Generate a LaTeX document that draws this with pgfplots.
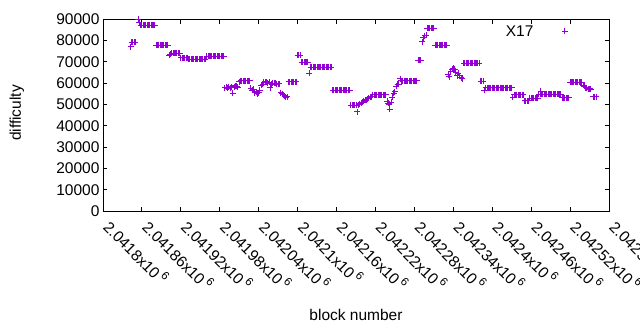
\documentclass[border=0pt]{standalone}
\usepackage{fontspec}
\setmainfont{Liberation Sans}
\usepackage{pgfplots}
\usepackage{pgfplotstable}
\pgfplotsset{compat=1.18}
\definecolor{dv}{RGB}{148,0,211}
\newcommand\lf{\fontsize{15.5pt}{18pt}\selectfont}
\newcommand\sx{x10\,\raisebox{0.45em}{\fontsize{11.5pt}{12pt}\selectfont 6}}
% block = 2041800 + offset
\pgfplotstableread{
offset difficulty
43 76900
44 79000
46 79000
48 79000
50 79000
54 90000
56 88300
58 87000
60 87000
62 87000
64 87000
66 87000
68 87000
70 87000
72 87000
74 87000
76 87000
78 87000
80 87000
82 77700
84 77700
86 77700
88 77700
90 77700
92 77700
94 77700
96 77700
98 77700
100 77700
102 73000
104 73500
106 74000
108 74000
110 74000
112 74000
114 74000
116 74000
118 74000
120 71900
122 71900
124 71900
126 71900
128 71900
130 71900
132 71200
134 71200
136 71200
138 71200
140 71200
142 71200
144 71200
146 71200
148 71200
150 71200
152 71200
154 71200
156 71200
158 71200
160 72600
162 72600
164 72600
166 72600
168 72600
170 72600
172 72600
174 72600
176 72600
178 72600
180 72600
182 72600
184 72600
186 72600
188 57700
190 58000
192 57500
194 58300
196 57800
198 58000
200 55200
202 58300
204 58800
206 58500
208 58000
210 60500
212 61000
214 61000
216 61000
218 61000
220 61000
222 61000
224 61000
226 61000
228 57500
230 56500
232 57000
234 55500
236 56000
238 55000
240 55500
242 56500
244 59000
246 59500
248 60300
250 60500
252 60500
254 60000
256 60300
258 57700
260 59500
262 60000
264 60000
266 59800
268 59500
270 59600
272 59700
274 55500
276 55000
278 54500
280 54000
282 53400
284 53500
286 60500
288 60500
290 60500
292 60500
294 60500
296 60500
298 60500
300 73100
302 73100
304 73100
306 69800
308 69800
310 69800
312 69800
314 69800
316 69800
318 64500
320 67400
322 67400
324 67400
326 67400
328 67400
330 67400
332 67400
334 67400
336 67400
338 67400
340 67400
342 67400
344 67400
346 67400
348 67400
350 67400
352 67400
354 56600
356 56600
358 56600
360 56600
362 56600
364 56600
366 56600
368 56600
370 56600
372 56600
374 56600
376 56600
378 56600
380 56600
382 49500
384 49500
386 49500
388 49500
390 49500
392 46500
394 49800
396 50200
398 50600
400 51000
402 51400
404 51800
406 52200
408 52600
410 53000
412 53300
414 53600
416 54600
418 54600
420 54600
422 54600
424 54600
426 54600
428 54600
430 54600
432 54600
434 54600
436 54600
438 51500
440 50600
441 50000
442 47800
444 51000
446 53400
448 55300
450 56000
452 58500
454 59300
456 59500
458 62000
460 61000
462 61000
464 61000
466 61000
468 61000
470 61000
472 61000
474 61000
476 61000
478 61000
480 61000
482 61000
484 61000
486 70700
488 70700
490 70700
492 79400
494 81200
496 82200
498 82500
500 85600
502 85600
504 85600
506 85600
508 85600
510 85600
512 77800
514 77800
516 77800
518 77800
520 77800
522 77800
524 77800
526 77800
528 77800
530 77800
532 63800
534 63000
536 65500
538 66500
540 67000
542 66500
544 65000
546 63500
548 64500
550 63500
552 62500
554 61900
556 69300
558 69300
560 69300
562 69300
564 69300
566 69300
568 69300
570 69300
572 69300
574 69300
576 69300
578 69300
580 69300
582 60800
584 60800
586 60800
588 56700
590 57800
592 57800
594 57800
596 57800
598 57800
600 57800
602 57800
604 57800
606 57800
608 57800
610 57800
612 57800
614 57800
616 57800
618 57800
620 57800
622 57800
624 57800
626 57800
628 57800
630 57800
632 53300
634 54600
636 54600
638 54600
640 54600
642 54600
644 54600
646 54600
648 54600
650 51600
652 51600
654 51600
656 51600
658 52800
660 52800
662 52800
664 52800
666 52800
668 52800
670 52800
672 54700
674 54700
675 56200
676 54700
678 54700
680 54700
682 54700
684 54700
686 54700
688 54700
690 54700
692 54700
694 54700
696 54700
698 54700
700 54700
702 54700
704 54700
706 54700
708 53200
710 53200
712 53200
714 53200
716 53200
718 53200
720 60300
722 60300
724 60300
726 60300
728 60300
730 60300
732 60300
734 60300
736 60300
738 60300
740 59000
742 58500
744 57800
746 57500
748 57000
750 57200
752 57000
756 53600
758 53600
760 53600
}\datatable
\begin{document}
\begin{tikzpicture}
\useasboundingbox (0pt,0pt) rectangle (640pt,330pt);
\clip (0pt,0pt) rectangle (640pt,330pt);
\begin{axis}[
  at={(103pt,119pt)}, anchor=south west,
  scale only axis, width=506pt, height=192pt,
  xmin=0, xmax=780, ymin=0, ymax=90000,
  scaled y ticks=false, scaled x ticks=false,
  xtick={0,60,...,780},
  xticklabels={2.0418\sx,2.04186\sx,2.04192\sx,2.04198\sx,2.04204\sx,2.0421\sx,2.04216\sx,2.04222\sx,2.04228\sx,2.04234\sx,2.0424\sx,2.04246\sx,2.04252\sx,2.04258\sx},
  ytick={0,10000,20000,30000,40000,50000,60000,70000,80000,90000},
  yticklabels={0,10000,20000,30000,40000,50000,60000,70000,80000,90000},
  tick align=inside, xtick pos=both, ytick pos=both,
  major tick length=4.5pt,
  every tick/.style={black, line width=0.9pt},
  axis line style={black, line width=0.9pt},
  yticklabel style={font=\lf},
  xticklabel style={font=\lf, xshift=10pt, yshift=-2pt, rotate=-45, anchor=north west},
  xlabel={block number},
  ylabel={difficulty},
  xlabel style={font=\lf, at={(axis description cs:0.5,-0.542)}, anchor=center},
  ylabel style={font=\lf, at={(axis description cs:-0.170,0.51)}, anchor=center},
  legend style={draw=none, fill=none, font=\lf, at={(axis description cs:0.931,0.935)}, anchor=east},
  legend cell align=right,
  legend plot pos=right,
  legend image code/.code={\path (0pt,0pt) (35pt,0pt); \draw[#1] plot coordinates {(29pt,0pt)};},
]
\addplot[only marks, mark=+, mark size=3pt, color=dv, mark options={line width=1pt}] table[x=offset, y=difficulty] {\datatable};
\addlegendentry{X17}
\end{axis}
\end{tikzpicture}
\end{document}
